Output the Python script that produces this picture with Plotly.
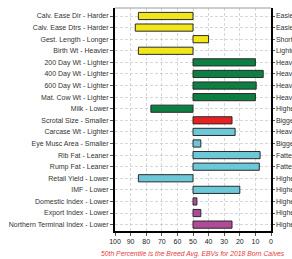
import plotly.graph_objects as go

traits = ["Calv. Ease Dir - Harder", "Calv. Ease Dtrs - Harder", "Gest. Length - Longer",
          "Birth Wt - Heavier", "200 Day Wt - Lighter", "400 Day Wt - Lighter",
          "600 Day Wt - Lighter", "Mat. Cow Wt - Lighter", "Milk - Lower",
          "Scrotal Size - Smaller", "Carcase Wt - Lighter", "Eye Musc Area - Smaller",
          "Rib Fat - Leaner", "Rump Fat - Leaner", "Retail Yield - Lower", "IMF - Lower",
          "Domestic Index - Lower", "Export Index - Lower", "Northern Terminal Index - Lower"]
right_labels = ["Easier", "Easier", "Shorter", "Lighter", "Heavier", "Heavier", "Heavier",
                "Heavier", "Higher", "Bigger", "Heavier", "Bigger", "Fatter", "Fatter",
                "Higher", "Higher", "Higher", "Higher", "Higher"]
percentiles = [85, 87, 40, 85, 10, 5, 9.5, 10, 77, 25, 23, 45, 7, 7.5, 85, 20, 47.5, 45, 25]
groups = ["calv", "calv", "calv", "calv", "growth", "growth", "growth", "growth", "growth",
          "fert", "carc", "carc", "carc", "carc", "carc", "carc", "index", "index", "index"]
group_colors = {"calv": "#F2E61A", "growth": "#0E7F43", "fert": "#E8201F",
                "carc": "#6AC8D8", "index": "#B24A9A"}
x_ticks = [100, 90, 80, 70, 60, 50, 40, 30, 20, 10, 0]
breed_avg = 50

idx = list(range(len(traits)))
fig = go.Figure()
fig.add_trace(go.Bar(
    y=idx,
    x=[p - breed_avg for p in percentiles],
    base=breed_avg,
    orientation="h",
    width=0.62,
    marker=dict(color=[group_colors[g] for g in groups],
                line=dict(color="#2a2a2a", width=1)),
    hoverinfo="skip",
))
# same bars referenced on the right-hand axis (fully transparent) so it carries its labels
fig.add_trace(go.Bar(
    y=idx,
    x=[p - breed_avg for p in percentiles],
    base=breed_avg,
    orientation="h",
    width=0.62,
    marker=dict(color="rgba(0,0,0,0)", line=dict(width=0)),
    yaxis="y2",
    hoverinfo="skip",
))

font_family = "Liberation Sans, Arial, sans-serif"
yrange = [18.55, -0.69]
fig.update_layout(
    width=292, height=259,
    margin=dict(l=115, r=21, t=8, b=28, autoexpand=False),
    paper_bgcolor="white", plot_bgcolor="white",
    showlegend=False,
    barmode="overlay",
    font=dict(family=font_family, size=7, color="#333333"),
    xaxis=dict(range=[100, 0], tickvals=x_ticks, ticktext=[str(v) for v in x_ticks],
               showgrid=True, gridcolor="#bdbdbd", griddash="3px,2px", gridwidth=0.6,
               zeroline=False, showline=True, linecolor="black", linewidth=2,
               automargin=False,
               ticks="outside", ticklen=3, tickcolor="#555", tickfont=dict(size=7, color="#222")),
    yaxis=dict(range=yrange, tickvals=idx, ticktext=traits,
               showgrid=True, gridcolor="#bdbdbd", griddash="3px,2px", gridwidth=0.6,
               zeroline=False, showline=True, linecolor="black", linewidth=2,
               automargin=False,
               ticks="outside", ticklen=3, tickcolor="#555", tickfont=dict(size=7, color="#333")),
    yaxis2=dict(range=yrange, tickvals=idx, ticktext=right_labels, overlaying="y",
                side="right", anchor="x", showgrid=False, zeroline=False,
                showline=True, linecolor="black", linewidth=1.5, automargin=False,
                ticks="outside", ticklen=2, tickcolor="#555",
                tickfont=dict(size=7, color="#333")),
)

# top (grey) border
fig.add_shape(type="line", xref="paper", yref="paper", x0=0, x1=1, y0=1, y1=1,
              line=dict(color="#9a9a9a", width=1))

fig.add_annotation(x=0.5, xref="paper", y=-0.103, yref="paper", yanchor="middle",
                   text="<i>50th Percentile is the Breed Avg. EBVs for 2018 Born Calves</i>",
                   showarrow=False, font=dict(size=6.8, color="#E8393B"))

fig.write_html("out.html",
               config={"displayModeBar": False, "staticPlot": True},
               post_script="document.body.style.margin='0';"
                           "document.body.style.overflow='hidden';")
